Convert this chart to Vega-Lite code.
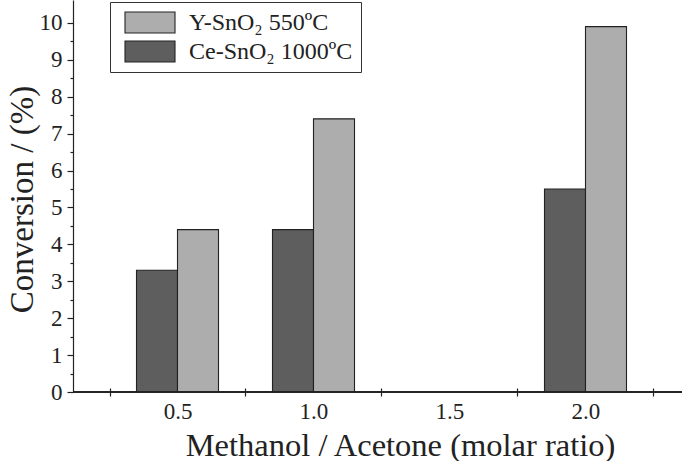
{
  "$schema": "https://vega.github.io/schema/vega-lite/v6.json",
  "width": 609,
  "height": 392,
  "autosize": "none",
  "padding": {"left": 73, "top": 0, "right": 0, "bottom": 69},
  "background": "white",
  "config": {
    "view": {"stroke": null},
    "font": "Liberation Serif",
    "axis": {"grid": false, "domainColor": "#222", "tickColor": "#222", "labelColor": "#222", "titleColor": "#222", "labelFont": "Liberation Serif", "titleFont": "Liberation Serif", "titleFontWeight": "normal", "domainWidth": 1.2, "tickWidth": 1.2}
  },
  "data": {
    "values": [
      {"ratio": "0.5", "catalyst": "Ce-SnO₂ 1000ºC", "conversion": 3.3},
      {"ratio": "0.5", "catalyst": "Y-SnO₂ 550ºC", "conversion": 4.4},
      {"ratio": "1.0", "catalyst": "Ce-SnO₂ 1000ºC", "conversion": 4.4},
      {"ratio": "1.0", "catalyst": "Y-SnO₂ 550ºC", "conversion": 7.4},
      {"ratio": "2.0", "catalyst": "Ce-SnO₂ 1000ºC", "conversion": 5.5},
      {"ratio": "2.0", "catalyst": "Y-SnO₂ 550ºC", "conversion": 9.9}
    ]
  },
  "layer": [
    {
      "mark": {"type": "bar", "stroke": "#222", "strokeWidth": 1.1},
      "encoding": {
        "x": {
          "field": "ratio",
          "type": "ordinal",
          "scale": {"domain": ["0.5", "1.0", "1.5", "2.0"], "paddingInner": 0, "paddingOuter": 0.239, "align": 0.5615},
          "axis": {
            "title": "Methanol / Acetone (molar ratio)",
            "titleFontSize": 32.5,
            "titleX": 327,
            "titleY": 67,
            "titleAlign": "center",
            "titleBaseline": "alphabetic",
            "labelAngle": 0,
            "labelFontSize": 23,
            "labelPadding": 4,
            "tickBand": "extent",
            "offset": -4,
            "tickSize": 8,
            "domain": false
          }
        },
        "xOffset": {
          "field": "catalyst",
          "scale": {"domain": ["Ce-SnO₂ 1000ºC", "Y-SnO₂ 550ºC"], "paddingInner": 0, "paddingOuter": 0.6585}
        },
        "y": {
          "field": "conversion",
          "type": "quantitative",
          "scale": {"domain": [0, 10.62], "nice": false, "zero": true},
          "axis": {
            "title": "Conversion / (%)",
            "titleFontSize": 33,
            "titleAngle": 270,
            "titleX": -41,
            "titleY": 199,
            "titleAlign": "center",
            "titleBaseline": "alphabetic",
            "values": [0, 0.5, 1, 1.5, 2, 2.5, 3, 3.5, 4, 4.5, 5, 5.5, 6, 6.5, 7, 7.5, 8, 8.5, 9, 9.5, 10],
            "labelExpr": "datum.value % 1 == 0 ? format(datum.value, 'd') : ''",
            "labelOverlap": false,
            "labelFontSize": 23,
            "labelPadding": 5,
            "tickSize": {"condition": {"test": "datum.value % 1 != 0", "value": 3}, "value": 6}
          }
        },
        "fill": {
          "field": "catalyst",
          "type": "nominal",
          "scale": {"domain": ["Y-SnO₂ 550ºC", "Ce-SnO₂ 1000ºC"], "range": ["#adadad", "#5e5e5e"]},
          "legend": {
            "title": null,
            "orient": "none",
            "legendX": 37,
            "legendY": 2,
            "strokeColor": "#333",
            "padding": 8,
            "symbolType": "M-1,-0.42H1V0.42H-1Z",
            "symbolSize": 2500,
            "symbolStrokeColor": "#222",
            "symbolStrokeWidth": 1.1,
            "symbolOffset": 6,
            "clipHeight": 25,
            "rowPadding": 4,
            "labelFont": "Liberation Serif",
            "labelFontSize": 24,
            "labelColor": "#222",
            "labelOffset": 13,
            "labelLimit": 300
          }
        }
      }
    },
    {
      "mark": {"type": "rule", "color": "#222", "strokeWidth": 1.2},
      "encoding": {
        "y": {
          "datum": 0,
          "type": "quantitative",
          "axis": {
            "title": "Conversion / (%)",
            "titleFontSize": 33,
            "titleAngle": 270,
            "titleX": -41,
            "titleY": 199,
            "titleAlign": "center",
            "titleBaseline": "alphabetic",
            "values": [0, 0.5, 1, 1.5, 2, 2.5, 3, 3.5, 4, 4.5, 5, 5.5, 6, 6.5, 7, 7.5, 8, 8.5, 9, 9.5, 10],
            "labelExpr": "datum.value % 1 == 0 ? format(datum.value, 'd') : ''",
            "labelOverlap": false,
            "labelFontSize": 23,
            "labelPadding": 5,
            "tickSize": {"condition": {"test": "datum.value % 1 != 0", "value": 3}, "value": 6}
          }
        }
      }
    }
  ]
}
